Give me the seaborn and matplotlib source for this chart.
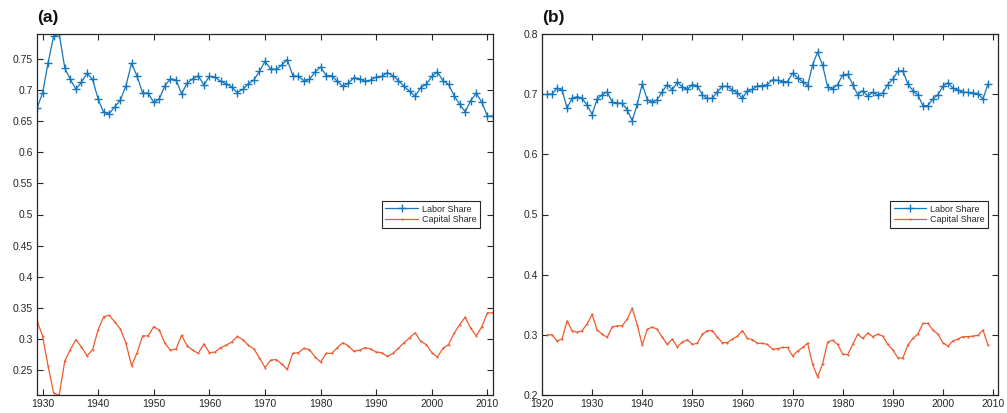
import numpy as np
import pandas as pd
import matplotlib
matplotlib.use("Agg")
import matplotlib.pyplot as plt
import seaborn as sns

sns.set_theme(style="ticks")
plt.rcParams['font.family'] = ['Liberation Sans', 'DejaVu Sans']

# ---- panel (a): 1929-2011 ----
years_a = list(range(1929, 2012))
labor_a = [0.671, 0.695, 0.744, 0.787, 0.790, 0.735, 0.717, 0.701, 0.713, 0.727,
           0.717, 0.685, 0.664, 0.662, 0.673, 0.684, 0.707, 0.743, 0.722, 0.695,
           0.695, 0.680, 0.686, 0.707, 0.718, 0.716, 0.694, 0.711, 0.718, 0.723,
           0.708, 0.722, 0.721, 0.714, 0.710, 0.705, 0.696, 0.701, 0.710, 0.716,
           0.730, 0.746, 0.734, 0.733, 0.740, 0.749, 0.723, 0.722, 0.715, 0.717,
           0.729, 0.737, 0.723, 0.723, 0.714, 0.706, 0.711, 0.720, 0.718, 0.714,
           0.716, 0.721, 0.722, 0.728, 0.723, 0.715, 0.706, 0.698, 0.690, 0.704,
           0.709, 0.722, 0.729, 0.715, 0.709, 0.691, 0.677, 0.665, 0.683, 0.695,
           0.680, 0.658, 0.658]
capital_a = [0.329, 0.305, 0.256, 0.213, 0.210, 0.265, 0.283, 0.299, 0.287, 0.273,
             0.283, 0.315, 0.336, 0.338, 0.327, 0.316, 0.293, 0.257, 0.278, 0.305,
             0.305, 0.320, 0.314, 0.293, 0.282, 0.284, 0.306, 0.289, 0.282, 0.277,
             0.292, 0.278, 0.279, 0.286, 0.290, 0.295, 0.304, 0.299, 0.290, 0.284,
             0.270, 0.254, 0.266, 0.267, 0.260, 0.251, 0.277, 0.278, 0.285, 0.283,
             0.271, 0.263, 0.277, 0.277, 0.286, 0.294, 0.289, 0.280, 0.282, 0.286,
             0.284, 0.279, 0.278, 0.272, 0.277, 0.285, 0.294, 0.302, 0.310, 0.296,
             0.291, 0.278, 0.271, 0.285, 0.291, 0.309, 0.323, 0.335, 0.317, 0.305,
             0.320, 0.342, 0.342]

# ---- panel (b): 1921-2009 ----
years_b = list(range(1921, 2010))
labor_b = [0.700, 0.700, 0.710, 0.707, 0.677, 0.693, 0.696, 0.693, 0.682, 0.666,
           0.692, 0.699, 0.704, 0.687, 0.685, 0.685, 0.674, 0.656, 0.683, 0.717,
           0.691, 0.687, 0.691, 0.704, 0.716, 0.707, 0.720, 0.712, 0.708, 0.716,
           0.714, 0.699, 0.693, 0.693, 0.704, 0.713, 0.713, 0.707, 0.702, 0.693,
           0.706, 0.708, 0.714, 0.714, 0.716, 0.724, 0.723, 0.721, 0.721, 0.735,
           0.727, 0.721, 0.714, 0.749, 0.770, 0.748, 0.712, 0.709, 0.716, 0.732,
           0.733, 0.716, 0.699, 0.706, 0.697, 0.703, 0.699, 0.702, 0.716, 0.725,
           0.738, 0.739, 0.717, 0.706, 0.699, 0.681, 0.681, 0.692, 0.699, 0.713,
           0.719, 0.710, 0.707, 0.703, 0.703, 0.702, 0.701, 0.692, 0.717]
capital_b = [0.300, 0.300, 0.290, 0.293, 0.323, 0.307, 0.304, 0.307, 0.318, 0.334,
             0.308, 0.301, 0.296, 0.313, 0.315, 0.315, 0.326, 0.344, 0.317, 0.283,
             0.309, 0.313, 0.309, 0.296, 0.284, 0.293, 0.280, 0.288, 0.292, 0.284,
             0.286, 0.301, 0.307, 0.307, 0.296, 0.287, 0.287, 0.293, 0.298, 0.307,
             0.294, 0.292, 0.286, 0.286, 0.284, 0.276, 0.277, 0.279, 0.279, 0.265,
             0.273, 0.279, 0.286, 0.251, 0.230, 0.252, 0.288, 0.291, 0.284, 0.268,
             0.267, 0.284, 0.301, 0.294, 0.303, 0.297, 0.301, 0.298, 0.284, 0.275,
             0.262, 0.261, 0.283, 0.294, 0.301, 0.319, 0.319, 0.308, 0.301, 0.287,
             0.281, 0.290, 0.293, 0.297, 0.297, 0.298, 0.299, 0.308, 0.283]

BLUE = '#1476BE'
ORANGE = '#EE5B2E'
AXC = '#262626'

fig = plt.figure(figsize=(10.07, 4.13), dpi=100)
ax_a = fig.add_axes([37 / 1007, 18 / 413, 456 / 1007, 361 / 413])
ax_b = fig.add_axes([542 / 1007, 18 / 413, 456 / 1007, 361 / 413])


def draw(ax, years, labor, capital):
    df = pd.DataFrame({'year': years, 'labor': labor, 'capital': capital})
    sns.lineplot(data=df, x='year', y='labor', ax=ax, color=BLUE, lw=0.9,
                 marker='+', markersize=6, markeredgewidth=1.0,
                 markeredgecolor=BLUE, label='Labor Share')
    sns.lineplot(data=df, x='year', y='capital', ax=ax, color=ORANGE, lw=0.9,
                 marker='.', markersize=3, markeredgewidth=0,
                 markerfacecolor=ORANGE, label='Capital Share')
    ax.set_xlabel('')
    ax.set_ylabel('')
    for s in ax.spines.values():
        s.set_visible(True)
        s.set_color(AXC)
        s.set_linewidth(0.9)
    ax.tick_params(direction='in', length=4, width=0.8, colors=AXC,
                   labelsize=7.5, top=True, right=True, pad=3)
    ax.grid(False)


# panel (a)
draw(ax_a, years_a, labor_a, capital_a)
ax_a.set_xlim(1929, 2011)
ax_a.set_ylim(0.21, 0.79)
ax_a.set_xticks(range(1930, 2011, 10))
yt_a = [0.25, 0.3, 0.35, 0.4, 0.45, 0.5, 0.55, 0.6, 0.65, 0.7, 0.75]
ax_a.set_yticks(yt_a)
ax_a.set_yticklabels([f'{v:g}' for v in yt_a])
ax_a.text(0.0, 1.025, '(a)', transform=ax_a.transAxes, fontsize=12.5,
          fontweight='bold', ha='left', va='bottom', color='#111111')

# panel (b)
draw(ax_b, years_b, labor_b, capital_b)
ax_b.set_xlim(1920, 2011)
ax_b.set_ylim(0.2, 0.8)
ax_b.set_xticks(range(1920, 2011, 10))
yt_b = [0.2, 0.3, 0.4, 0.5, 0.6, 0.7, 0.8]
ax_b.set_yticks(yt_b)
ax_b.set_yticklabels([f'{v:g}' for v in yt_b])
ax_b.text(0.0, 1.025, '(b)', transform=ax_b.transAxes, fontsize=12.5,
          fontweight='bold', ha='left', va='bottom', color='#111111')

for ax, xr in ((ax_a, 0.971), (ax_b, 0.978)):
    leg = ax.legend(loc='center right', bbox_to_anchor=(xr, 0.5),
                    borderaxespad=0, fontsize=6.5, frameon=True,
                    fancybox=False, handlelength=3.6, handletextpad=0.4,
                    labelspacing=0.2, borderpad=0.4, numpoints=1)
    leg.get_frame().set_edgecolor(AXC)
    leg.get_frame().set_linewidth(0.8)
    leg.get_frame().set_alpha(1)

fig.savefig('out.png', dpi=100)
